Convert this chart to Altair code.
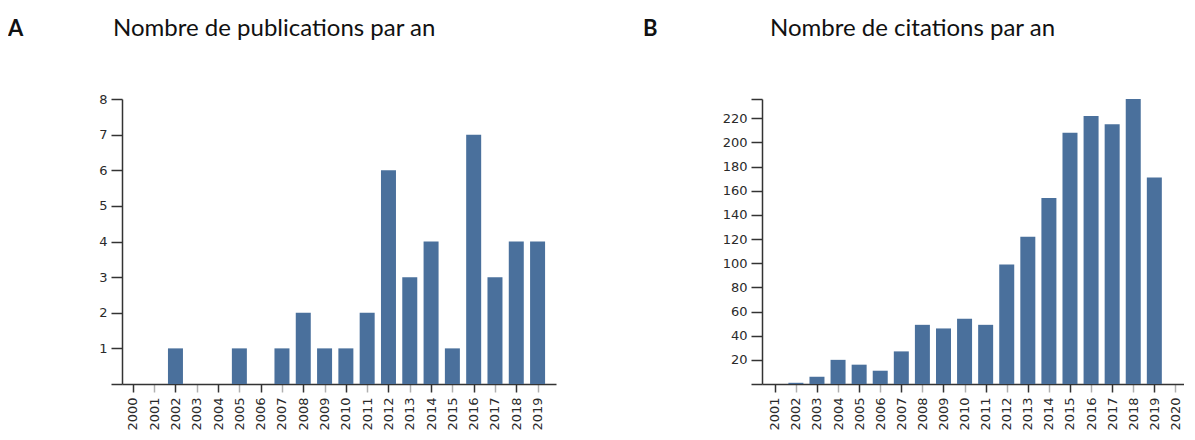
import altair as alt
import pandas as pd

# ---- data ----
pub_years = [2000, 2001, 2002, 2003, 2004, 2005, 2006, 2007, 2008, 2009,
             2010, 2011, 2012, 2013, 2014, 2015, 2016, 2017, 2018, 2019]
pub_counts = [0, 0, 1, 0, 0, 1, 0, 1, 2, 1, 1, 2, 6, 3, 4, 1, 7, 3, 4, 4]

cit_years = [2001, 2002, 2003, 2004, 2005, 2006, 2007, 2008, 2009, 2010,
             2011, 2012, 2013, 2014, 2015, 2016, 2017, 2018, 2019, 2020]
cit_counts = [0, 1, 6, 20, 16, 11, 27, 49, 46, 54, 49, 99, 122, 154, 208, 222, 215, 236, 171, 0]

pub_yticks = [0, 1, 2, 3, 4, 5, 6, 7, 8]
cit_yticks = [0, 20, 40, 60, 80, 100, 120, 140, 160, 180, 200, 220, max(cit_counts)]

letters = ["A", "B"]
titles = ["Nombre de publications par an", "Nombre de citations par an"]

BAR = "#4a709c"
DARK = "#333333"
LIGHT = "#b0b0b0"
TFONT = "Lato"


def panel(years, counts, yticks, ymax, xdom, dark_parity, letter, title,
          letter_x, title_x, width, label_expr):
    df = pd.DataFrame({"year": years, "n": counts})
    bars = alt.Chart(df).mark_bar(size=15, color=BAR).encode(
        x=alt.X(
            "year:Q",
            scale=alt.Scale(domain=xdom, nice=False, zero=False),
            axis=alt.Axis(
                values=years, format="d", labelAngle=-90, title=None, grid=False,
                tickSize=8, labelPadding=5,
                tickColor=alt.condition(f"datum.value % 2 == {dark_parity}",
                                        alt.value(DARK), alt.value(LIGHT)),
            ),
        ),
        y=alt.Y(
            "n:Q",
            scale=alt.Scale(domain=[0, ymax], nice=False),
            axis=alt.Axis(values=yticks, title=None, grid=False, tickSize=11,
                          labelPadding=4, labelExpr=label_expr, tickColor=DARK),
        ),
    )
    lt = alt.Chart(pd.DataFrame({"t": [letter]})).mark_text(
        align="left", baseline="middle", fontSize=22, fontWeight="bold",
        font=TFONT, color="#111"
    ).encode(text="t:N", x=alt.value(letter_x), y=alt.value(-70))
    tt = alt.Chart(pd.DataFrame({"t": [title]})).mark_text(
        align="left", baseline="middle", fontSize=24, fontWeight="normal",
        font=TFONT, color="#111"
    ).encode(text="t:N", x=alt.value(title_x), y=alt.value(-70))
    return alt.layer(bars, lt, tt).properties(width=width, height=285)


a = panel(pub_years, pub_counts, pub_yticks, 8, [1999.725, 2019.63], 0,
          letters[0], titles[0], -114, -9, 434,
          "datum.value == 0 ? '' : datum.label")
b = panel(cit_years, cit_counts, cit_yticks, max(cit_counts), [2000.63, 2020.17], 1,
          letters[1], titles[1], -119, 8, 422,
          "(datum.value > 0 && datum.value % 20 == 0) ? datum.label : ''")

chart = alt.hconcat(a, b, spacing=87).properties(
    padding={"top": 9, "left": 0, "right": 0, "bottom": 0}
).configure_view(stroke=None).configure_axis(
    labelFont="DejaVu Sans", labelFontSize=13, labelColor="#2a2a2a",
    domainColor=DARK, domainWidth=1.5, tickWidth=1.5,
)

chart.save("out.html", embed_options={"renderer": "svg", "actions": False})
